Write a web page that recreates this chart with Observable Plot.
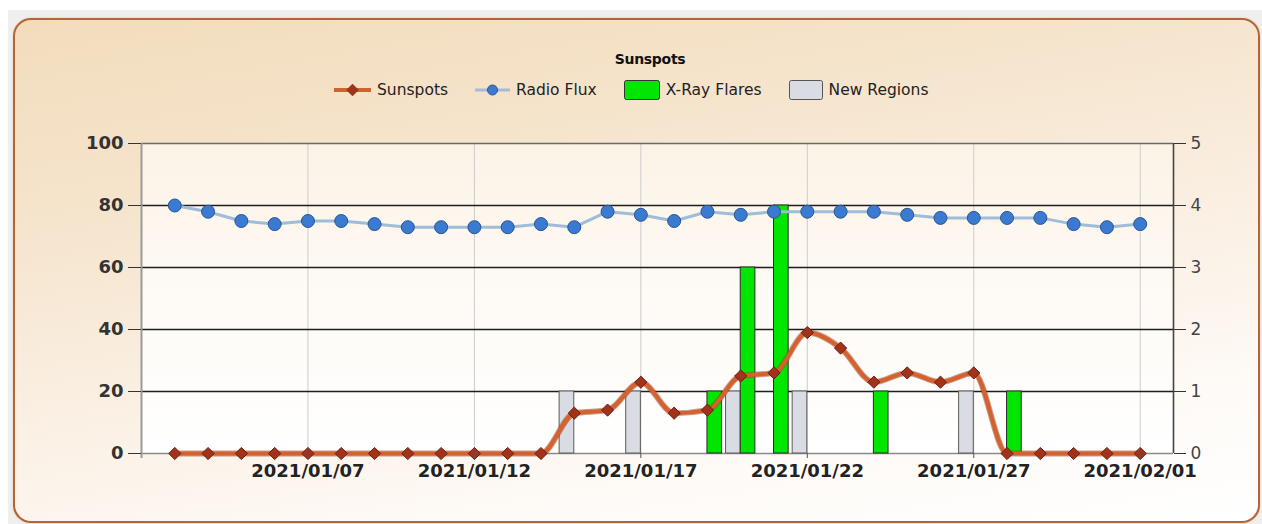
<!DOCTYPE html>
<html><head><meta charset="utf-8">
<script src="https://cdn.jsdelivr.net/npm/d3@7"></script>
<script src="https://cdn.jsdelivr.net/npm/@observablehq/plot@0.6"></script>
<style>
html,body{margin:0;padding:0;background:#fff;width:1262px;height:524px;overflow:hidden;font-family:"DejaVu Sans",sans-serif;}
#outer{position:absolute;left:8px;top:10px;width:1254px;height:514px;background:#efefed;}
#panel{position:absolute;left:13px;top:18px;width:1247px;height:505px;box-sizing:border-box;border:2px solid #b3653a;border-radius:18px;background:linear-gradient(170deg,#f2dcbc 0%,#f5e3ca 25%,#faefe2 55%,#fefaf6 80%,#ffffff 100%);box-shadow:0 0 2px #e6c3a0;}
#title{position:absolute;left:0;width:1300px;top:51px;text-align:center;font-weight:bold;font-size:14px;color:#111;letter-spacing:-0.3px;}
#legend{position:absolute;left:334px;top:80px;display:flex;align-items:center;font-size:15.5px;color:#222;}
#legend .item{display:flex;align-items:center;margin-right:27px;}
#legend svg{margin-right:6px;display:block;}
#chart{position:absolute;left:0;top:120px;}
</style></head>
<body>
<div id="outer"></div>
<div id="panel"></div>
<div id="title">Sunspots</div>
<div id="legend"></div>
<div id="chart"></div>
<script>
// ---- data ----
const dates = ["2021-01-03","2021-01-04","2021-01-05","2021-01-06","2021-01-07","2021-01-08","2021-01-09","2021-01-10","2021-01-11","2021-01-12","2021-01-13","2021-01-14","2021-01-15","2021-01-16","2021-01-17","2021-01-18","2021-01-19","2021-01-20","2021-01-21","2021-01-22","2021-01-23","2021-01-24","2021-01-25","2021-01-26","2021-01-27","2021-01-28","2021-01-29","2021-01-30","2021-01-31","2021-02-01"];
const sunspots = [0,0,0,0,0,0,0,0,0,0,0,0,13,14,23,13,14,25,26,39,34,23,26,23,26,0,0,0,0,0];
const radioFlux = [80,78,75,74,75,75,74,73,73,73,73,74,73,78,77,75,78,77,78,78,78,78,77,76,76,76,76,74,73,74];
const flareDates = ["2021-01-19","2021-01-20","2021-01-21","2021-01-24","2021-01-28"];
const flareCounts = [1,3,4,1,1];
const regionDates = ["2021-01-15","2021-01-17","2021-01-20","2021-01-22","2021-01-27"];
const regionCounts = [1,1,1,1,1];
const leftTicks = [0,20,40,60,80,100];
const rightTicks = [0,1,2,3,4,5];
const dateTicks = ["2021-01-07","2021-01-12","2021-01-17","2021-01-22","2021-01-27","2021-02-01"];
const xStart = "2021-01-02", xEnd = "2021-02-02";
const legendLabels = ["Sunspots","Radio Flux","X-Ray Flares","New Regions"];
const titleText = "Sunspots";

// ---- build tables ----
const parse = d3.utcParse("%Y-%m-%d");
const series = dates.map((d,i)=>({date:parse(d), sunspots:sunspots[i], radio:radioFlux[i]}));
const flares = flareDates.map((d,i)=>({date:parse(d), count:flareCounts[i]}));
const regions = regionDates.map((d,i)=>({date:parse(d), count:regionCounts[i]}));
const ticksX = dateTicks.map(parse);
const rightScale = 100 / rightTicks[rightTicks.length-1];
const bw = 0.44 * 864e5; // bar width in ms

document.getElementById("title").textContent = titleText;

const plot = Plot.plot({
  width: 1262, height: 380,
  marginLeft: 141, marginRight: 89, marginTop: 23, marginBottom: 47,
  style: {background:"transparent", overflow:"visible", fontFamily:"DejaVu Sans, sans-serif"},
  x: {type:"utc", domain:[parse(xStart), parse(xEnd)]},
  y: {domain:[0,100]},
  marks: [
    Plot.frame({fill:"url(#plotbg)"}),
    Plot.ruleX(ticksX, {stroke:"#cccccc", strokeWidth:1}),
    Plot.ruleY([20,40,60,80], {stroke:"#1e1e1e", strokeWidth:1.3}),
    Plot.ruleY([100], {stroke:"#6a6a6a", strokeWidth:1.5}),
    Plot.ruleY([0], {stroke:"#8a8a8a", strokeWidth:1.3}),
    Plot.ruleX([parse(xStart)], {stroke:"#9a9a9a", strokeWidth:2, insetBottom:-5}),
    Plot.ruleX([parse(xEnd)], {stroke:"#444", strokeWidth:1.6}),
    Plot.rect(regions, {x1: d=>new Date(+d.date - bw), x2: d=>d.date, y1: 0, y2: d=>d.count*rightScale, fill:"#d9dce3", stroke:"#5a5a5a", strokeWidth:1}),
    Plot.rect(flares, {x1: d=>d.date, x2: d=>new Date(+d.date + bw), y1: 0, y2: d=>d.count*rightScale, fill:"#00e600", stroke:"#2a2a2a", strokeWidth:1}),
    Plot.line(series, {x:"date", y:"radio", stroke:"#9fbcd9", strokeWidth:3}),
    Plot.dot(series, {x:"date", y:"radio", r:6.5, fill:"#3a7ad0", stroke:"#2a5590", strokeWidth:1}),
    Plot.line(series, {x:"date", y:"sunspots", stroke:"#9a3a1c", strokeWidth:6, curve:"monotone-x", strokeOpacity:0.5}),
    Plot.line(series, {x:"date", y:"sunspots", stroke:"#d4622e", strokeWidth:4, curve:"monotone-x"}),
    Plot.dot(series, {x:"date", y:"sunspots", symbol:"diamond2", r:5.5, fill:"#a3321a", stroke:"#6a1e0e", strokeWidth:1}),
    Plot.axisX(ticksX, {tickFormat: d3.utcFormat("%Y/%m/%d"), tickSize:5, tickPadding:6, fontSize:18, fontWeight:"bold", fill:"#222", stroke:"#555", label:null}),
    Plot.axisY(leftTicks, {anchor:"left", tickSize:13, tickPadding:5, fontSize:18, fontWeight:"bold", fill:"#333", stroke:"#333", label:null}),
    Plot.axisY(rightTicks.map(v=>v*rightScale), {anchor:"right", tickSize:12, tickPadding:5, fontSize:17, tickFormat:(d,i)=>rightTicks[i], fill:"#444", stroke:"#333", label:null})
  ]
});
// gradient for plot area background
const ns = "http://www.w3.org/2000/svg";
const defs = document.createElementNS(ns, "defs");
defs.innerHTML = '<linearGradient id="plotbg" x1="0" y1="0" x2="0" y2="1"><stop offset="0" stop-color="#fcf3e7"/><stop offset="0.5" stop-color="#fefaf5"/><stop offset="1" stop-color="#ffffff"/></linearGradient>';
plot.insertBefore(defs, plot.firstChild);
document.getElementById("chart").appendChild(plot);

// legend
const sw = [
  '<svg width="37" height="14"><line x1="0" y1="7" x2="37" y2="7" stroke="#d4622e" stroke-width="4"/><rect x="14" y="2.5" width="9" height="9" transform="rotate(45 18.5 7)" fill="#a3321a"/></svg>',
  '<svg width="35" height="14"><line x1="0" y1="7" x2="35" y2="7" stroke="#9fbcd9" stroke-width="3"/><circle cx="17.5" cy="7" r="5" fill="#3a7ad0" stroke="#2a5590"/></svg>',
  '<svg width="36" height="20"><rect x="0.5" y="0.5" width="35" height="19" rx="2" fill="#00e600" stroke="#333"/></svg>',
  '<svg width="34" height="20"><rect x="0.5" y="0.5" width="33" height="19" rx="2" fill="#d9dce3" stroke="#555"/></svg>'
];
const leg = document.getElementById("legend");
legendLabels.forEach((l,i)=>{
  const it = document.createElement("div"); it.className="item";
  it.innerHTML = sw[i] + '<span>' + l + '</span>';
  leg.appendChild(it);
});
</script>
</body></html>
